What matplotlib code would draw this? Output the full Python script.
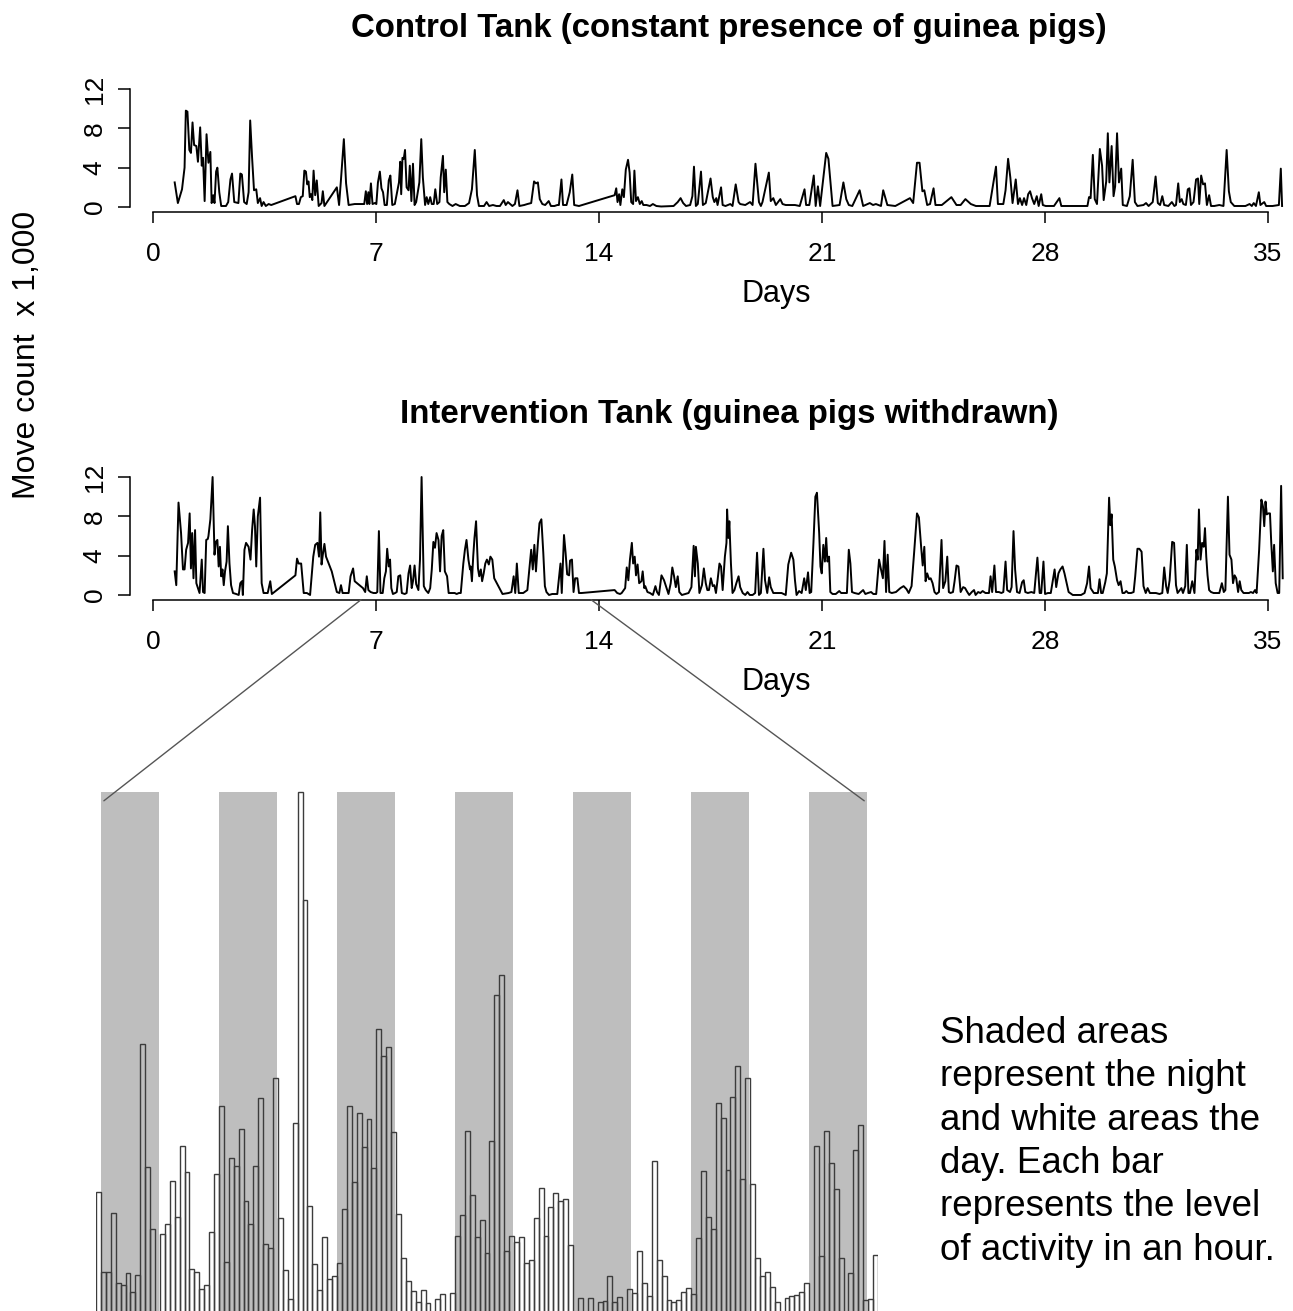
import matplotlib
matplotlib.use("Agg")
import matplotlib.pyplot as plt
from matplotlib.patches import ConnectionPatch
import numpy as np

plt.rcParams["font.family"] = ["Liberation Sans", "DejaVu Sans"]

W, H = 1293, 1311

# control tank, move count x 1,000 against day
ctrl_day = [0.68, 0.78, 0.91, 0.99, 1.03, 1.08, 1.14, 1.19, 1.24, 1.29, 1.36, 1.41, 1.48, 1.53, 1.57, 1.62, 1.68, 1.74, 1.80, 1.84,
            1.89, 1.93, 1.98, 2.02, 2.08, 2.14, 2.29, 2.36, 2.43, 2.48, 2.55, 2.68, 2.74, 2.79, 2.86, 2.94, 3.00, 3.05, 3.11, 3.17,
            3.24, 3.29, 3.36, 3.41, 3.47, 3.54, 3.63, 3.71,
            4.47, 4.52, 4.58, 4.64, 4.70, 4.75, 4.80, 4.84, 4.88, 4.92, 4.96, 5.00, 5.04, 5.09, 5.14, 5.20, 5.29, 5.33, 5.38,
            5.77, 5.84, 5.90, 5.99, 6.06, 6.14, 6.33, 6.63, 6.68, 6.72, 6.76, 6.79, 6.84, 6.89, 6.96, 7.01, 7.06, 7.12, 7.17, 7.22,
            7.27, 7.34, 7.40, 7.45, 7.51, 7.59, 7.66, 7.72, 7.76, 7.79, 7.83, 7.87, 7.91, 7.96, 8.02, 8.06, 8.11, 8.16, 8.21, 8.26,
            8.36, 8.42, 8.47, 8.54, 8.59, 8.64, 8.70, 8.75, 8.81, 8.86, 8.92, 8.99, 9.03, 9.10, 9.14, 9.19, 9.24, 9.30, 9.40, 9.50,
            9.63, 9.79, 9.92, 10.01, 10.10, 10.17, 10.23, 10.39, 10.47, 10.55, 10.67, 10.78, 10.89, 11.01, 11.07, 11.14, 11.21,
            11.28, 11.36, 11.44, 11.50, 11.65, 11.75, 11.87, 11.96, 12.02, 12.08, 12.14, 12.22, 12.31, 12.42, 12.49, 12.60, 12.69,
            12.74, 12.82, 12.87, 12.98, 13.08, 13.16, 13.22, 13.37,
            14.49, 14.54, 14.58, 14.63, 14.67, 14.73, 14.78, 14.84, 14.91, 14.96, 15.01, 15.07, 15.11, 15.16, 15.22, 15.28, 15.34,
            15.39, 15.49, 15.60, 15.69, 15.80, 15.95, 16.34, 16.47, 16.56, 16.64, 16.73, 16.86, 16.93, 16.98, 17.04, 17.10, 17.20,
            17.26, 17.35, 17.50, 17.57, 17.62, 17.68, 17.72, 17.83, 17.88, 17.97, 18.12, 18.19, 18.29, 18.38, 18.43, 18.59, 18.74,
            18.82, 18.91, 19.02, 19.08, 19.13, 19.33, 19.39, 19.47, 19.55, 19.69, 19.76, 19.86, 20.15, 20.30, 20.45, 20.50, 20.60,
            20.74, 20.80, 20.87, 20.94, 21.01, 21.13, 21.20, 21.33, 21.55, 21.67, 21.76, 21.84, 21.95, 22.18, 22.29, 22.50, 22.60,
            22.69, 22.85, 22.92, 23.05, 23.30, 23.76, 23.86, 23.98, 24.06, 24.15, 24.21, 24.30, 24.39, 24.50, 24.56, 24.76, 25.06,
            25.22, 25.35, 25.50, 25.67, 25.83, 26.26, 26.46, 26.52, 26.59, 26.69, 26.76, 26.84, 26.91, 26.98, 27.08, 27.15, 27.21,
            27.28, 27.34, 27.41, 27.47, 27.53, 27.59, 27.66, 27.74, 27.80, 27.88, 27.93, 28.02, 28.28, 28.45, 28.51, 28.72, 28.87,
            29.33, 29.38, 29.43, 29.50, 29.56, 29.63, 29.72, 29.79, 29.84, 29.92, 29.97, 30.02, 30.09, 30.15, 30.20, 30.26, 30.32,
            30.39, 30.44, 30.57, 30.66, 30.75, 30.82, 30.90, 31.09, 31.17, 31.25, 31.38, 31.47, 31.54, 31.61, 31.68, 31.74, 31.87,
            31.98, 32.06, 32.11, 32.18, 32.23, 32.29, 32.34, 32.42, 32.48, 32.53, 32.58, 32.66, 32.74, 32.80, 32.84, 32.90, 32.96,
            33.02, 33.08, 33.15, 33.21, 33.31, 33.47, 33.60, 33.70, 33.77, 33.83, 33.94, 34.29, 34.42, 34.49, 34.55, 34.62, 34.71,
            34.76, 34.88, 34.94, 35.14, 35.34, 35.40, 35.44]
ctrl_val = [2.5, 0.4, 1.8, 4.0, 9.8, 9.7, 5.8, 5.5, 8.6, 6.3, 6.2, 4.6, 8.1, 4.2, 5.0, 0.6, 7.4, 4.5, 5.6, 0.4,
            1.2, 0.4, 3.6, 4.0, 1.5, 0.1, 0.1, 0.5, 2.8, 3.4, 0.5, 0.4, 3.4, 3.3, 0.5, 0.3, 1.5, 8.8, 5.0, 1.7,
            1.8, 0.4, 0.9, 0.1, 0.5, 0.1, 0.3, 0.2,
            1.1, 0.3, 0.3, 1.0, 1.1, 3.7, 3.6, 2.3, 2.6, 1.0, 1.3, 0.7, 3.7, 1.2, 2.7, 0.1, 0.4, 1.6, 0.1,
            2.0, 0.2, 2.8, 6.9, 2.4, 0.2, 0.3, 0.3, 1.6, 0.3, 1.5, 0.3, 2.4, 0.3, 0.4, 0.3, 2.5, 3.6, 1.9, 1.5,
            0.2, 0.2, 2.7, 3.2, 0.2, 0.3, 1.5, 2.5, 4.6, 1.3, 5.0, 4.9, 5.8, 2.0, 1.7, 4.2, 0.6, 4.4, 0.2, 0.5,
            2.5, 6.9, 3.0, 0.2, 1.0, 0.3, 1.0, 0.3, 0.3, 1.8, 0.3, 0.5, 3.0, 5.2, 1.5, 3.8, 0.5, 0.3, 0.1, 0.3,
            0.1, 0.1, 0.4, 1.8, 5.8, 1.2, 0.1, 0.1, 0.5, 0.1, 0.2, 0.1, 0.1, 0.7, 0.2, 0.5, 0.3,
            0.1, 0.3, 1.7, 0.1, 0.2, 0.3, 0.4, 2.6, 2.4, 2.5, 0.8, 0.3, 0.2, 0.6, 0.1, 0.1, 0.2,
            0.2, 2.8, 0.2, 0.2, 1.5, 3.3, 0.2, 0.1,
            1.2, 1.9, 0.5, 1.3, 0.2, 1.8, 1.0, 3.8, 4.8, 3.5, 0.5, 0.3, 3.7, 0.6, 1.0, 0.3, 0.6,
            0.2, 0.2, 0.1, 0.3, 0.1, 0.05, 0.1, 0.5, 0.9, 0.4, 0.1, 0.2, 1.1, 4.1, 0.1, 0.3, 3.6,
            0.2, 0.4, 2.9, 1.0, 0.5, 0.9, 0.2, 2.0, 0.2, 0.1, 0.3, 0.1, 2.3, 0.5, 0.3, 0.2, 0.5,
            0.2, 4.4, 0.5, 0.1, 0.5, 3.5, 0.6, 0.9, 0.2, 0.8, 0.3, 0.2, 0.2, 0.1, 1.8, 0.2, 0.2,
            3.2, 0.1, 2.1, 0.1, 2.1, 5.5, 4.9, 0.1, 0.2, 2.5, 0.8, 0.2, 0.1, 1.7, 0.1, 0.4, 0.2,
            0.3, 0.1, 1.7, 0.2, 0.1, 0.9, 0.4, 4.5, 4.5, 1.6, 1.7, 0.2, 0.3, 1.9, 0.2, 0.2, 1.0,
            0.2, 0.2, 0.8, 0.3, 0.1, 0.1, 4.1, 0.3, 0.3, 0.3, 1.7, 4.9, 3.0, 0.4, 2.8, 0.3, 0.9,
            0.2, 0.9, 0.2, 1.3, 1.6, 0.9, 0.3, 1.1, 0.1, 1.3, 0.2, 0.1, 0.1, 0.9, 0.1, 0.1, 0.1,
            0.1, 1.0, 0.9, 5.3, 0.8, 0.3, 5.9, 4.2, 0.7, 2.6, 7.5, 2.5, 6.2, 1.1, 2.1, 7.5, 2.5,
            3.9, 0.2, 0.1, 1.1, 4.8, 0.5, 0.1, 0.2, 0.4, 0.1, 0.5, 3.1, 0.4, 0.2, 1.1, 0.2, 0.1,
            0.5, 0.1, 0.2, 2.4, 0.5, 0.8, 0.3, 0.2, 1.8, 1.9, 0.2, 0.5, 2.8, 2.9, 0.3, 3.2, 2.3,
            2.4, 0.2, 1.2, 0.1, 0.1, 0.2, 0.1, 5.8, 1.6, 0.5, 0.1, 0.1, 0.3, 0.1, 0.4, 0.1, 1.5,
            0.2, 0.5, 0.1, 0.1, 0.2, 3.9, 0.1]

# intervention tank
int_day = [0.68, 0.73, 0.80, 0.88, 0.94, 0.99, 1.04, 1.10, 1.15, 1.19, 1.23, 1.27, 1.32, 1.36, 1.41, 1.46, 1.53, 1.57, 1.62, 1.67,
           1.72, 1.74, 1.80, 1.87, 1.93, 1.97, 2.02, 2.06, 2.10, 2.14, 2.18, 2.22, 2.26, 2.31, 2.35, 2.40, 2.45, 2.51, 2.61, 2.69,
           2.74, 2.79, 2.82, 2.87, 2.92, 3.00, 3.06, 3.11, 3.16, 3.20, 3.24, 3.29, 3.36, 3.41, 3.47, 3.54, 3.60, 3.68, 3.73,
           4.47, 4.52, 4.57, 4.65, 4.73, 4.83, 4.93, 5.03, 5.09, 5.16, 5.21, 5.25, 5.29, 5.33, 5.38, 5.43, 5.61, 5.77, 5.85, 5.90,
           5.95, 6.04, 6.14, 6.20, 6.28, 6.33, 6.59, 6.66, 6.71, 6.76, 6.83, 6.92, 7.00, 7.04, 7.09, 7.14, 7.21, 7.26, 7.31, 7.35,
           7.40, 7.44, 7.48, 7.53, 7.60, 7.65, 7.70, 7.76, 7.81, 7.90, 7.96, 8.02, 8.07, 8.12, 8.16, 8.21, 8.26, 8.33, 8.38, 8.43,
           8.50, 8.56, 8.64, 8.70, 8.75, 8.80, 8.85, 8.90, 8.96, 9.01, 9.06, 9.11, 9.16, 9.23, 9.28, 9.37, 9.47, 9.53, 9.60, 9.66,
           9.74, 9.79, 9.84, 9.90, 9.95, 9.97, 10.01, 10.05, 10.09, 10.14, 10.20, 10.24, 10.29, 10.33, 10.38, 10.43, 10.48, 10.54,
           10.59, 10.65, 10.71, 10.84, 10.97, 11.16, 11.25, 11.32, 11.37, 11.42, 11.48, 11.62, 11.75, 11.82, 11.87, 11.92, 11.97,
           12.02, 12.08, 12.13, 12.19, 12.25, 12.30, 12.35, 12.43, 12.53, 12.69, 12.79, 12.83, 12.90, 12.95, 13.00, 13.06, 13.09,
           13.15, 13.20, 13.25, 13.32, 13.37, 13.45,
           14.49, 14.57, 14.66, 14.71, 14.82, 14.87, 14.92, 14.97, 15.03, 15.07, 15.12, 15.16, 15.21, 15.26, 15.33, 15.37, 15.42,
           15.45, 15.52, 15.60, 15.69, 15.77, 15.82, 15.88, 15.96, 16.04, 16.12, 16.18, 16.25, 16.30, 16.35, 16.41, 16.47, 16.52,
           16.60, 16.71, 16.81, 16.90, 16.97, 17.01, 17.04, 17.10, 17.15, 17.23, 17.29, 17.35, 17.40, 17.45, 17.51, 17.57, 17.62,
           17.67, 17.72, 17.78, 17.83, 17.88, 17.95, 18.00, 18.02, 18.06, 18.09, 18.14, 18.19, 18.25, 18.31, 18.38, 18.43, 18.51,
           18.59, 18.66, 18.73, 18.82, 18.90, 18.96, 19.02, 19.08, 19.16, 19.21, 19.28, 19.34, 19.39, 19.47, 19.60, 19.73, 19.86,
           19.94, 20.03, 20.10, 20.15, 20.20, 20.28, 20.36, 20.44, 20.49, 20.56, 20.61, 20.66, 20.73, 20.79, 20.84, 20.91, 20.95,
           20.99, 21.04, 21.09, 21.13, 21.17, 21.22, 21.26, 21.33, 21.43, 21.54, 21.60, 21.69, 21.78, 21.84, 21.89, 21.94, 22.02,
           22.15, 22.29, 22.36, 22.44, 22.54, 22.61, 22.70, 22.79, 22.85, 22.91, 22.96, 23.01, 23.06, 23.11, 23.19, 23.32, 23.46,
           23.56, 23.65, 23.72, 23.81, 23.89, 23.98, 24.04, 24.11, 24.16, 24.21, 24.25, 24.30, 24.36, 24.41, 24.47, 24.53, 24.59,
           24.67, 24.75, 24.80, 24.87, 24.93, 24.98, 25.03, 25.11, 25.16, 25.22, 25.28, 25.35, 25.43, 25.49, 25.56, 25.62, 25.70,
           25.77, 25.82, 25.90, 25.97, 26.04, 26.13, 26.24, 26.29, 26.34, 26.41, 26.46, 26.55, 26.63, 26.69, 26.76, 26.81, 26.90,
           26.95, 27.01, 27.06, 27.12, 27.20, 27.28, 27.33, 27.38, 27.46, 27.57, 27.66, 27.76, 27.83, 27.88, 27.95, 28.00, 28.09,
           28.18, 28.23, 28.30, 28.35, 28.42, 28.48, 28.55, 28.61, 28.68, 28.74, 28.87, 29.00, 29.13, 29.24, 29.32, 29.38, 29.43,
           29.53, 29.59, 29.66, 29.71, 29.76, 29.81, 29.89, 29.94, 30.01, 30.05, 30.09, 30.14, 30.19, 30.26, 30.31, 30.37, 30.43,
           30.49, 30.55, 30.61, 30.70, 30.78, 30.83, 30.90, 30.96, 31.03, 31.09, 31.16, 31.22, 31.29, 31.38, 31.48, 31.59, 31.68,
           31.74, 31.80, 31.85, 31.91, 31.99, 32.05, 32.11, 32.16, 32.23, 32.28, 32.33, 32.40, 32.45, 32.50, 32.55, 32.62, 32.69,
           32.75, 32.79, 32.83, 32.88, 32.93, 32.98, 33.02, 33.06, 33.10, 33.15, 33.21, 33.29, 33.38, 33.47, 33.55, 33.61, 33.66,
           33.74, 33.79, 33.85, 33.90, 33.95, 34.00, 34.06, 34.11, 34.16, 34.23, 34.33, 34.40, 34.46, 34.53, 34.59, 34.64, 34.72,
           34.79, 34.84, 34.88, 34.92, 34.96, 35.01, 35.06, 35.10, 35.15, 35.19, 35.24, 35.30, 35.35, 35.41, 35.46]
int_val = [2.4, 1.0, 9.4, 6.3, 2.6, 2.6, 4.6, 5.3, 8.3, 2.7, 6.3, 1.7, 6.6, 1.2, 0.7, 0.2, 3.6, 0.3, 0.2, 5.6,
           5.7, 6.0, 7.7, 12.0, 4.1, 5.4, 5.6, 2.9, 4.9, 1.9, 2.6, 1.0, 2.4, 3.4, 7.0, 3.2, 1.0, 0.2, 0.1, 0.0,
           1.2, 1.4, 0.0, 4.6, 5.3, 4.9, 3.6, 6.6, 8.7, 7.0, 2.9, 8.0, 9.9, 1.2, 0.2, 0.2, 0.2, 1.4, 0.1,
           2.0, 3.7, 3.2, 3.2, 0.2, 0.2, 0.0, 3.9, 5.1, 5.3, 3.9, 8.4, 3.1, 4.1, 5.2, 3.9, 2.4, 0.3, 0.2, 1.0,
           0.2, 0.2, 0.2, 1.9, 2.7, 1.4, 0.7, 0.3, 1.9, 0.5, 0.3, 0.2, 0.2, 0.3, 6.5, 0.2, 0.2, 1.7, 2.4, 4.7,
           2.9, 3.6, 0.7, 0.1, 0.2, 0.3, 1.9, 2.0, 0.2, 0.1, 0.2, 2.2, 3.0, 0.7, 1.4, 3.0, 1.1, 0.5, 3.6, 12.0,
           0.9, 0.5, 0.2, 0.7, 2.6, 5.4, 4.8, 6.3, 5.6, 2.4, 6.0, 6.6, 2.4, 1.9, 0.2, 0.2, 0.2, 0.1, 0.2, 0.2,
           3.2, 4.6, 5.6, 3.6, 2.6, 2.9, 1.4, 3.9, 5.8, 7.5, 2.7, 1.9, 2.6, 1.4, 2.2, 3.2, 3.6, 3.1,
           3.9, 3.6, 1.7, 0.9, 0.1, 0.2, 0.3, 1.9, 0.2, 3.2, 0.2, 0.2, 0.5, 2.9, 4.6, 2.6, 5.1,
           2.4, 5.3, 7.3, 7.7, 4.3, 0.9, 0.3, 0.0, 0.1, 0.1, 3.2, 0.2, 6.1, 4.3, 2.1, 2.0, 3.5,
           3.6, 0.3, 1.7, 1.7, 0.2, 0.2,
           0.5, 0.2, 0.1, 0.2, 0.7, 2.8, 1.5, 3.6, 5.3, 3.2, 3.9, 2.0, 3.1, 1.2, 1.4, 2.4, 0.7,
           0.9, 0.3, 0.2, 0.0, 0.9, 0.3, 0.0, 2.0, 1.5, 0.7, 0.1, 1.2, 2.8, 2.0, 0.8, 1.9, 0.3,
           0.0, 0.1, 0.2, 0.8, 5.0, 1.9, 4.9, 3.2, 0.2, 1.0, 2.7, 1.2, 0.5, 0.5, 1.7, 0.9, 1.0,
           0.2, 1.5, 3.2, 2.9, 0.5, 3.9, 5.3, 8.7, 5.8, 7.5, 3.2, 0.2, 0.5, 1.2, 1.9, 0.8, 0.2,
           0.0, 0.3, 0.0, 0.0, 0.2, 4.3, 0.0, 0.2, 4.7, 1.5, 0.2, 1.8, 0.8, 0.2, 0.2, 0.2, 0.0,
           3.1, 4.3, 3.6, 1.5, 0.0, 0.4, 0.2, 1.7, 0.5, 2.3, 0.2, 0.3, 5.3, 10.0, 10.4, 6.3, 2.9,
           2.2, 5.1, 3.4, 5.8, 3.4, 3.9, 0.3, 0.1, 0.1, 0.4, 0.2, 0.2, 0.2, 4.6, 3.2, 0.3, 0.2,
           0.1, 0.5, 0.1, 0.2, 0.3, 0.1, 0.1, 3.6, 2.6, 1.7, 5.5, 0.3, 4.1, 0.3, 0.2, 0.3, 0.7,
           0.9, 0.6, 0.2, 0.9, 4.3, 8.3, 7.9, 4.9, 3.0, 4.9, 1.4, 2.2, 1.6, 1.7, 1.2, 0.3, 0.1,
           0.3, 5.6, 0.7, 1.4, 3.9, 0.3, 0.2, 0.3, 1.4, 3.0, 2.9, 0.3, 0.8, 0.7, 0.3, 0.0, 0.3,
           0.5, 0.0, 0.3, 0.2, 0.4, 0.2, 0.2, 1.9, 0.3, 3.0, 0.3, 0.3, 0.2, 0.3, 3.4, 0.5, 0.3,
           0.8, 6.5, 2.6, 0.3, 0.2, 1.3, 1.5, 0.3, 0.2, 0.3, 0.2, 3.8, 0.2, 0.2, 3.4, 0.1, 0.2,
           0.2, 1.2, 2.6, 0.8, 2.2, 2.6, 2.9, 2.2, 1.2, 0.3, 0.0, 0.0, 0.0, 0.2, 1.2, 2.9, 0.7,
           0.2, 0.2, 0.2, 1.6, 0.2, 0.2, 1.3, 2.2, 9.9, 7.1, 8.2, 3.6, 2.9, 1.5, 1.0, 1.4, 0.2,
           0.2, 0.4, 0.2, 0.2, 0.3, 1.9, 4.7, 4.7, 4.4, 0.9, 0.2, 0.7, 0.2, 0.2, 0.2, 0.1, 0.2,
           2.8, 0.9, 0.2, 1.5, 5.4, 5.3, 1.0, 0.2, 0.5, 0.7, 0.2, 0.9, 5.1, 0.2, 0.2, 1.4, 0.2,
           4.6, 3.6, 8.7, 3.6, 5.3, 4.9, 6.8, 3.9, 2.0, 0.5, 0.3, 0.2, 0.2, 0.2, 1.2, 0.3, 0.5,
           10.0, 4.1, 3.6, 1.2, 2.0, 1.7, 0.3, 1.4, 0.5, 0.2, 0.2, 0.2, 0.3, 0.2, 0.5, 0.2, 4.6,
           9.7, 9.0, 7.0, 9.5, 8.2, 8.3, 8.3, 5.3, 2.4, 5.1, 1.2, 0.2, 0.2, 11.1, 1.7]

day_ticks = [0, 7, 14, 21, 28, 35]
move_ticks = [0, 4, 8, 12]

# hourly bars of the intervention tank (zoomed stretch), move count x 1,000
hour_val = [3.07, 1.29, 1.30, 2.59, 1.04, 1.01, 1.27, 0.85, 1.23, 6.36, 3.62, 2.24, 0.30, 2.14, 2.36, 3.31, 2.52, 4.10, 3.52, 1.35,
            1.30, 0.91, 0.99, 2.17, 3.46, 4.98, 1.52, 3.83, 3.64, 4.47, 2.87, 2.36, 3.65, 5.16, 1.92, 1.83, 5.61, 2.49, 1.33, 0.69,
            4.59, 11.96, 9.55, 2.75, 1.47, 0.88, 2.06, 1.13, 1.21, 1.50, 2.68, 4.97, 3.30, 4.83, 4.07, 4.68, 3.61, 6.68, 6.10, 6.30,
            4.40, 2.57, 1.61, 1.10, 0.87, 0.63, 0.88, 0.61, 0.30, 0.69, 0.81, 0.30, 0.83, 2.10, 2.55, 4.43, 3.00, 2.07, 2.44, 1.71,
            4.21, 7.45, 7.89, 1.76, 2.10, 1.96, 2.07, 1.49, 1.56, 2.50, 3.15, 2.10, 2.74, 3.04, 2.87, 2.91, 1.90, 0.30, 0.72, 0.30,
            0.72, 0.30, 0.63, 0.65, 1.21, 0.62, 0.74, 0.30, 0.92, 0.83, 1.75, 1.04, 0.75, 3.76, 1.56, 1.19, 0.67, 0.63, 0.67, 0.84,
            0.93, 0.79, 2.04, 3.53, 2.52, 2.24, 5.05, 4.72, 3.55, 5.17, 5.87, 3.36, 5.59, 3.24, 1.61, 1.20, 1.30, 0.95, 0.62, 0.30,
            0.72, 0.75, 0.77, 0.84, 1.05, 0.30, 4.09, 1.64, 4.43, 3.71, 3.13, 1.61, 0.30, 1.26, 4.01, 4.56, 0.67, 0.70, 1.66]
night_start = [0.95, 24.95, 48.95, 72.95, 96.95, 120.95, 144.95]
night_len = 11.9
zoom_days = [6.53, 13.75]


def px_axes(fig, left, top, right, bottom):
    return fig.add_axes([left / W, 1 - bottom / H, (right - left) / W, (bottom - top) / H])


def line_panel(ax, days, vals):
    ax.plot(days, vals, color="black", lw=1.4)
    ax.set_xlim(-0.71, 36.85)
    ax.set_ylim(-0.48, 12.48)
    ax.spines["top"].set_visible(False)
    ax.spines["right"].set_visible(False)
    ax.spines["left"].set_bounds(0, 12)
    ax.spines["bottom"].set_bounds(0, 35)
    for s in ["left", "bottom"]:
        ax.spines[s].set_linewidth(1.1)
    ax.set_xticks(day_ticks)
    ax.set_yticks(move_ticks)
    ax.tick_params(axis="x", direction="out", length=8, width=1.1, labelsize=19, pad=14)
    ax.tick_params(axis="y", direction="out", length=9, width=1.1, labelsize=19, pad=8)
    for t in ax.get_yticklabels():
        t.set_rotation(90)
        t.set_va("center")
    ax.patch.set_alpha(0)


fig = plt.figure(figsize=(W / 100, H / 100), dpi=100)

ax1 = px_axes(fig, 130.4, 84.3, 1327, 211.7)
line_panel(ax1, ctrl_day, ctrl_val)
ax2 = px_axes(fig, 130.4, 472.3, 1327, 599.7)
line_panel(ax2, int_day, int_val)

fig.text(729 / W, 1 - 28 / H, "Control Tank (constant presence of guinea pigs)",
         ha="center", va="center", fontsize=23.8, fontweight="bold")
fig.text(729 / W, 1 - 415 / H, "Intervention Tank (guinea pigs withdrawn)",
         ha="center", va="center", fontsize=23.8, fontweight="bold")
fig.text(776 / W, 1 - 294 / H, "Days", ha="center", va="center", fontsize=22)
fig.text(776 / W, 1 - 682 / H, "Days", ha="center", va="center", fontsize=22)
fig.text(27 / W, 1 - 355 / H, "Move count  x 1,000", ha="center", va="center",
         rotation=90, fontsize=23)

# zoomed hourly bars
ax3 = px_axes(fig, 96, 781, 878, 1330)
n = len(hour_val)
top = max(hour_val)
ax3.set_xlim(0, n)
ax3.set_ylim(0, 12.2)
for s in night_start:
    ax3.fill_between([s, s + night_len], 0, top, color="#bebebe", lw=0)
ax3.bar(np.arange(n), hour_val, width=1, align="edge", facecolor="none",
        edgecolor="#3c3c3c", lw=1.0)
ax3.axis("off")

for d, b in zip(zoom_days, [1.6, n - 2.8]):
    con = ConnectionPatch(xyA=(d, -0.48), coordsA=ax2.transData,
                          xyB=(b, top - 0.2), coordsB=ax3.transData,
                          color="#555555", lw=1)
    fig.add_artist(con)

fig.text(940 / W, 1 - 1016 / H,
         "Shaded areas\nrepresent the night\nand white areas the\nday. Each bar\n"
         "represents the level\nof activity in an hour.",
         ha="left", va="top", fontsize=26.5, linespacing=1.31)

fig.savefig("out.png", dpi=100)
